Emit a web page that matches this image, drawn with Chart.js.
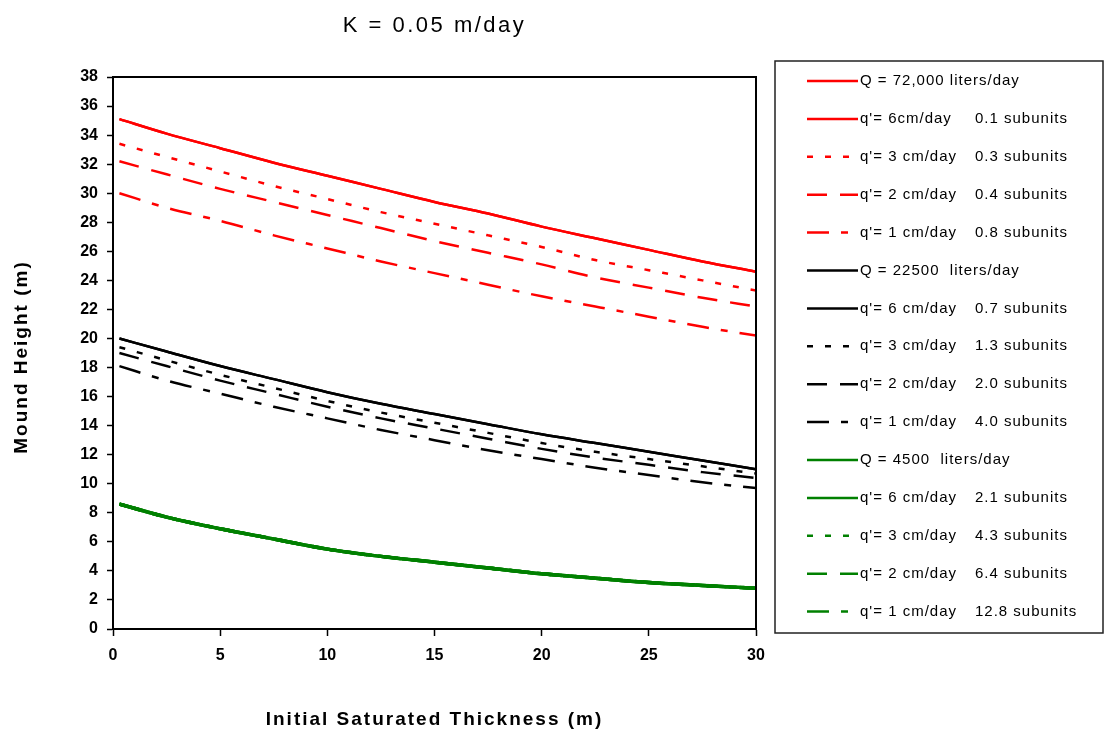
<!DOCTYPE html>
<html>
<head>
<meta charset="utf-8">
<title>K = 0.05 m/day</title>
<script src="https://cdn.jsdelivr.net/npm/chart.js@4/dist/chart.umd.min.js"></script>
<style>
    html, body { margin: 0; padding: 0; background: #fff; }
    #wrap { width: 1107px; height: 732px; }
</style>
</head>
<body>
<div id="wrap"><canvas id="mound-chart" width="1107" height="732"></canvas></div>
<script>
// Initial saturated thickness (m) for every curve
const thickness = [0.3, 2.5, 5, 7.5, 10, 12.5, 15, 17.5, 20, 22.5, 25, 27.5, 30];

// Mound height (m), Q = 72,000 liters/day
const red72000 = [35.1, 34.1, 33.1, 32.1, 31.2, 30.3, 29.4, 28.6, 27.7, 26.9, 26.1, 25.3, 24.6];
const red6cm = [35.1, 34.1, 33.1, 32.1, 31.2, 30.3, 29.4, 28.6, 27.7, 26.9, 26.1, 25.3, 24.6];
const red3cm = [33.4, 32.5, 31.5, 30.5, 29.6, 28.7, 27.9, 27.1, 26.3, 25.4, 24.7, 24.0, 23.3];
const red2cm = [32.2, 31.3, 30.3, 29.4, 28.5, 27.6, 26.7, 25.9, 25.1, 24.2, 23.5, 22.8, 22.2];
const red1cm = [30.0, 29.0, 28.1, 27.1, 26.2, 25.3, 24.5, 23.7, 22.9, 22.2, 21.5, 20.8, 20.2];

// Q = 22500 liters/day
const black22500 = [20.0, 19.1, 18.1, 17.2, 16.3, 15.5, 14.8, 14.1, 13.4, 12.8, 12.2, 11.6, 11.0];
const black6cm = [20.0, 19.1, 18.1, 17.2, 16.3, 15.5, 14.8, 14.1, 13.4, 12.8, 12.2, 11.6, 11.0];
const black3cm = [19.4, 18.5, 17.5, 16.6, 15.7, 14.9, 14.2, 13.5, 12.8, 12.2, 11.7, 11.2, 10.7];
const black2cm = [19.0, 18.1, 17.1, 16.2, 15.3, 14.5, 13.8, 13.1, 12.4, 11.8, 11.3, 10.8, 10.4];
const black1cm = [18.1, 17.1, 16.2, 15.3, 14.5, 13.7, 13.0, 12.3, 11.7, 11.1, 10.6, 10.1, 9.7];

// Q = 4500 liters/day (all curves overlap)
const green4500 = [8.6, 7.7, 6.9, 6.2, 5.5, 5.0, 4.6, 4.2, 3.8, 3.5, 3.2, 3.0, 2.8];
const green6cm = [8.6, 7.7, 6.9, 6.2, 5.5, 5.0, 4.6, 4.2, 3.8, 3.5, 3.2, 3.0, 2.8];
const green3cm = [8.6, 7.7, 6.9, 6.2, 5.5, 5.0, 4.6, 4.2, 3.8, 3.5, 3.2, 3.0, 2.8];
const green2cm = [8.6, 7.7, 6.9, 6.2, 5.5, 5.0, 4.6, 4.2, 3.8, 3.5, 3.2, 3.0, 2.8];
const green1cm = [8.6, 7.7, 6.9, 6.2, 5.5, 5.0, 4.6, 4.2, 3.8, 3.5, 3.2, 3.0, 2.8];

const xTicks = [0, 5, 10, 15, 20, 25, 30];
const yMax = 38;

const FONT = '"Liberation Sans", Arial, sans-serif';
const DOTTED = [6, 12];
const DASHED = [20, 13];
const DASH_DOT = [22, 12, 7, 12];

function series(label, values, color, dash, width) {
    return {
        label: label,
        data: values.map((v, i) => ({ x: thickness[i], y: v })),
        borderColor: color,
        backgroundColor: color,
        borderWidth: width || 2.5,
        borderDash: dash || [],
        pointRadius: 0,
        fill: false,
        cubicInterpolationMode: 'monotone',
    };
}

const datasets = [
    series('Q = 72,000 liters/day', red72000, '#ff0000'),
    series("q'= 6cm/day    0.1 subunits", red6cm, '#ff0000'),
    series("q'= 3 cm/day    0.3 subunits", red3cm, '#ff0000', DOTTED),
    series("q'= 2 cm/day    0.4 subunits", red2cm, '#ff0000', DASHED),
    series("q'= 1 cm/day    0.8 subunits", red1cm, '#ff0000', DASH_DOT),
    series('Q = 22500  liters/day', black22500, '#000000'),
    series("q'= 6 cm/day    0.7 subunits", black6cm, '#000000'),
    series("q'= 3 cm/day    1.3 subunits", black3cm, '#000000', DOTTED),
    series("q'= 2 cm/day    2.0 subunits", black2cm, '#000000', DASHED),
    series("q'= 1 cm/day    4.0 subunits", black1cm, '#000000', DASH_DOT),
    series('Q = 4500  liters/day', green4500, '#008000', [], 3.5),
    series("q'= 6 cm/day    2.1 subunits", green6cm, '#008000', [], 3.5),
    series("q'= 3 cm/day    4.3 subunits", green3cm, '#008000', DOTTED, 3.5),
    series("q'= 2 cm/day    6.4 subunits", green2cm, '#008000', DASHED, 3.5),
    series("q'= 1 cm/day    12.8 subunits", green1cm, '#008000', DASH_DOT, 3.5),
];

// frame around the plot, the titles and the boxed legend on the right
const framePlugin = {
    id: 'frameAndLegend',
    afterDraw(chart) {
        const ctx = chart.ctx;
        const area = chart.chartArea;
        const midX = (area.left + area.right) / 2;
        ctx.save();

        ctx.strokeStyle = '#000';
        ctx.lineWidth = 2;
        ctx.strokeRect(area.left, area.top, area.right - area.left, area.bottom - area.top);

        ctx.fillStyle = '#000';
        ctx.textAlign = 'center';
        ctx.textBaseline = 'middle';
        ctx.font = '22px ' + FONT;
        ctx.letterSpacing = '2.5px';
        ctx.fillText('K = 0.05 m/day', midX, 26);

        // axis titles
        ctx.font = 'bold 19px ' + FONT;
        ctx.letterSpacing = '2px';
        ctx.fillText('Initial Saturated Thickness (m)', midX, 720);
        ctx.save();
        ctx.translate(22, (area.top + area.bottom) / 2 + 4);
        ctx.rotate(-Math.PI / 2);
        ctx.fillText('Mound Height (m)', 0, 0);
        ctx.restore();

        ctx.letterSpacing = '0px';
        ctx.lineWidth = 1.5;
        ctx.strokeStyle = '#222';
        ctx.strokeRect(775, 61, 328, 572);

        ctx.font = '15px ' + FONT;
        ctx.textAlign = 'left';
        ctx.letterSpacing = '1px';
        chart.data.datasets.forEach((ds, i) => {
            const y = 81 + i * 37.9;
            ctx.beginPath();
            ctx.setLineDash(ds.borderDash);
            ctx.strokeStyle = ds.borderColor;
            ctx.lineWidth = 2.5;
            ctx.moveTo(807, y);
            ctx.lineTo(858, y);
            ctx.stroke();
            ctx.setLineDash([]);

            const parts = ds.label.split(/\s{3,}/);
            ctx.fillStyle = '#000';
            ctx.fillText(parts[0], 860, y);
            if (parts[1]) ctx.fillText(parts[1], 975, y);
        });
        ctx.restore();
    },
};

new Chart(document.getElementById('mound-chart').getContext('2d'), {
    type: 'line',
    data: { datasets: datasets },
    options: {
        responsive: false,
        animation: false,
        layout: { padding: { top: 77, right: 351, bottom: 0, left: 0 } },
        plugins: {
            legend: { display: false },
            tooltip: { enabled: false },
        },
        scales: {
            x: {
                type: 'linear',
                min: 0,
                max: 30,
                afterBuildTicks: (scale) => { scale.ticks = xTicks.map(v => ({ value: v })); },
                ticks: {
                    color: '#000',
                    padding: 10,
                    font: { family: FONT, size: 16, weight: 'bold' },
                },
                grid: { drawOnChartArea: false, color: '#000', tickLength: 7, tickWidth: 1.5 },
                border: { color: '#000', width: 2 },
                afterFit: (scale) => { scale.height = 103; },
            },
            y: {
                min: 0,
                max: yMax,
                ticks: {
                    stepSize: 2,
                    color: '#000',
                    padding: 9,
                    font: { family: FONT, size: 16, weight: 'bold' },
                },
                grid: { drawOnChartArea: false, color: '#000', tickLength: 6, tickWidth: 1.5 },
                border: { color: '#000', width: 2 },
                afterFit: (scale) => { scale.width = 113; },
            },
        },
    },
    plugins: [framePlugin],
});
</script>
</body>
</html>
